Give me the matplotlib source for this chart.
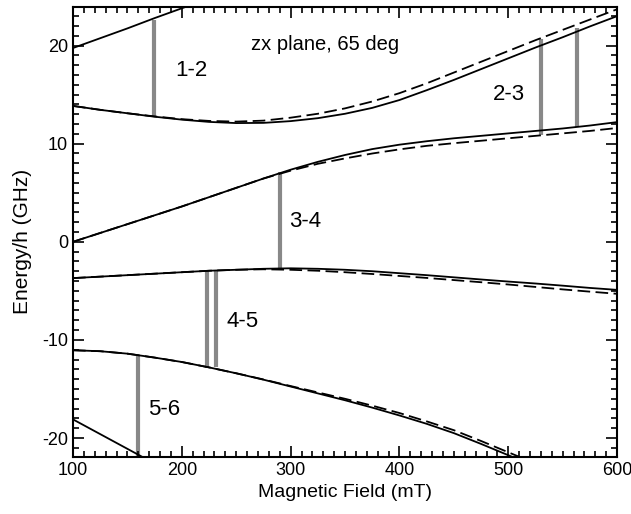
import numpy as np
import matplotlib.pyplot as plt
from matplotlib.ticker import MultipleLocator

plt.rcParams['font.family'] = ['Liberation Sans', 'DejaVu Sans']
plt.rcParams['axes.unicode_minus'] = False

# campo magnetico (mT)
B = [100, 125, 150, 175, 200, 225, 250, 275, 300, 325, 350,
     375, 400, 425, 450, 475, 500, 525, 550, 575, 600]
B_short = [100, 125, 150, 175, 200, 225]

# niveles de energia (GHz), solido y discontinuo
E1 = [19.75, 20.75, 21.75, 22.8, 23.8, 24.8]
E6 = [-18.1, -19.6, -21.1, -22.6, -24.1, -25.6]

E2 = [13.85, 13.45, 13.1, 12.75, 12.45, 12.22, 12.1, 12.12, 12.3, 12.6, 13.05,
      13.65, 14.45, 15.45, 16.5, 17.6, 18.7, 19.8, 20.85, 21.95, 23.0]
E2_d = [13.85, 13.45, 13.1, 12.78, 12.5, 12.32, 12.25, 12.35, 12.65, 13.05, 13.6,
        14.3, 15.15, 16.15, 17.25, 18.35, 19.45, 20.55, 21.6, 22.65, 23.7]

E3 = [0.0, 0.9, 1.8, 2.7, 3.6, 4.55, 5.5, 6.45, 7.35, 8.15, 8.85,
      9.45, 9.9, 10.25, 10.55, 10.8, 11.05, 11.3, 11.55, 11.85, 12.2]
E3_d = [0.0, 0.9, 1.8, 2.7, 3.6, 4.55, 5.5, 6.45, 7.25, 7.95, 8.5,
        9.0, 9.42, 9.78, 10.05, 10.3, 10.55, 10.8, 11.05, 11.3, 11.6]

E4 = [-3.7, -3.55, -3.4, -3.25, -3.1, -2.95, -2.85, -2.75, -2.7, -2.75, -2.85,
      -3.0, -3.2, -3.4, -3.62, -3.84, -4.05, -4.25, -4.47, -4.7, -4.9]
E4_d = [-3.7, -3.55, -3.4, -3.25, -3.1, -2.95, -2.85, -2.8, -2.85, -2.95, -3.1,
        -3.28, -3.48, -3.68, -3.9, -4.12, -4.35, -4.6, -4.85, -5.08, -5.3]

E5 = [-11.05, -11.15, -11.4, -11.8, -12.25, -12.8, -13.4, -14.05, -14.75, -15.45, -16.15,
      -16.9, -17.7, -18.55, -19.5, -20.6, -21.75, -22.9, -24.05, -25.2, -26.35]
E5_d = [-11.05, -11.15, -11.4, -11.8, -12.25, -12.8, -13.4, -14.03, -14.7, -15.35, -16.0,
        -16.7, -17.45, -18.3, -19.2, -20.3, -21.45, -22.6, -23.75, -24.9, -26.05]

# transiciones: campo, energia inferior, energia superior
trans_B = [174.7, 529.6, 563.5, 290.0, 222.8, 231.4, 160.0]
trans_lo = [12.75, 10.9, 11.7, -2.7, -12.9, -12.8, -22.5]
trans_hi = [22.6, 20.7, 21.8, 7.1, -3.0, -2.9, -11.5]

etiquetas = ['1-2', '2-3', '3-4', '4-5', '5-6']
etiq_B = [193.7, 485.6, 298.4, 241.0, 169.0]
etiq_E = [17.5, 15.0, 2.05, -8.15, -17.1]

fig = plt.figure(figsize=(6.31, 5.14), dpi=100)
ax = fig.add_axes([0.1157, 0.1115, 0.8623, 0.8743])

for b, lo, hi in zip(trans_B, trans_lo, trans_hi):
    ax.plot([b, b], [lo, hi], color='#888888', lw=3, solid_capstyle='butt', zorder=1)

lw = 1.3
ax.plot(B_short, E1, 'k-', lw=lw)
ax.plot(B_short, E6, 'k-', lw=lw)
for sol, das in [(E2, E2_d), (E3, E3_d), (E4, E4_d), (E5, E5_d)]:
    ax.plot(B, sol, 'k-', lw=lw)
    ax.plot(B, das, 'k', lw=lw, dashes=(7, 3))

for t, b, e in zip(etiquetas, etiq_B, etiq_E):
    ax.text(b, e, t, fontsize=16, va='center', ha='left')
ax.text(264, 20.1, 'zx plane, 65 deg', fontsize=14.5, va='center', ha='left')

ax.set_xlim(100, 600)
ax.set_ylim(-21.9, 23.9)
ax.xaxis.set_major_locator(MultipleLocator(100))
ax.xaxis.set_minor_locator(MultipleLocator(10))
ax.yaxis.set_major_locator(MultipleLocator(10))
ax.yaxis.set_minor_locator(MultipleLocator(1))
ax.tick_params(which='both', direction='in', top=True, right=True, labelsize=13, width=1.2)
ax.tick_params(which='major', length=8)
ax.tick_params(which='minor', length=4)
for s in ax.spines.values():
    s.set_linewidth(1.5)

ax.set_xlabel('Magnetic Field (mT)', fontsize=14)
ax.set_ylabel('Energy/h (GHz)', fontsize=15)
ax.yaxis.set_label_coords(-0.075, 0.48)

plt.savefig('out.png', dpi=100)
